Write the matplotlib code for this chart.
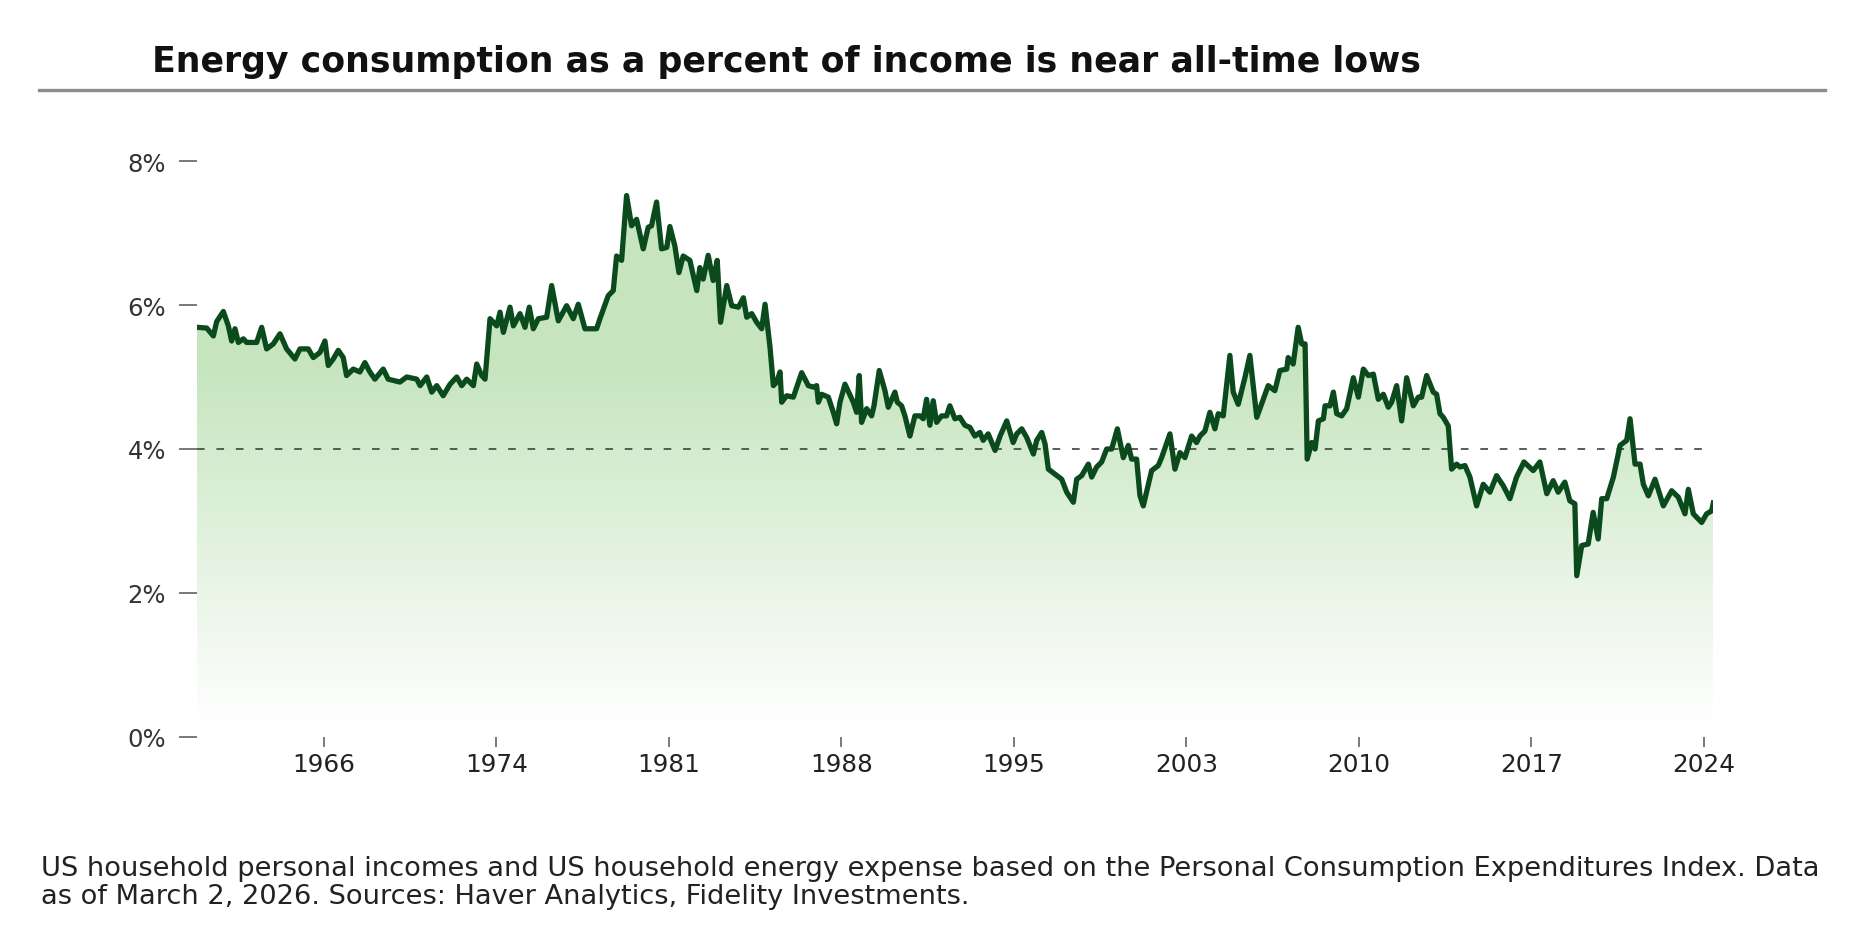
import numpy as np
import matplotlib
matplotlib.use("Agg")
import matplotlib.pyplot as plt

plt.rcParams['font.family'] = ['DejaVu Sans']
plt.rcParams['lines.scale_dashes'] = False

# ---------------- data (decimal year, percent of income) ----------------
dates_a = [1960.65, 1961.07, 1961.35, 1961.49, 1961.77, 1961.98, 1962.12, 1962.26, 1962.40, 1962.61,
           1962.75, 1963.17, 1963.38, 1963.59, 1963.87, 1964.15, 1964.43, 1964.78, 1964.99, 1965.34,
           1965.55, 1965.83, 1966.04, 1966.18, 1966.39, 1966.60, 1966.81, 1966.95, 1967.23, 1967.51,
           1967.72, 1967.93, 1968.14, 1968.49, 1968.70, 1969.19, 1969.48, 1969.90, 1970.04, 1970.32,
           1970.53, 1970.74, 1971.01, 1971.30, 1971.58, 1971.79, 1972.00, 1972.28, 1972.42, 1972.63,
           1972.77, 1972.98, 1973.26, 1973.40, 1973.54, 1973.82, 1973.96, 1974.24, 1974.45, 1974.63,
           1974.80, 1975.01, 1975.36, 1975.57, 1975.85, 1976.20, 1976.48, 1976.69, 1976.97, 1977.46,
           1977.60]
pct_a = [5.69, 5.68, 5.57, 5.77, 5.91, 5.71, 5.50, 5.67, 5.48, 5.53,
         5.48, 5.48, 5.69, 5.39, 5.46, 5.60, 5.39, 5.25, 5.39, 5.39,
         5.27, 5.34, 5.50, 5.16, 5.25, 5.37, 5.27, 5.02, 5.11, 5.07,
         5.20, 5.07, 4.97, 5.11, 4.97, 4.93, 5.00, 4.97, 4.88, 5.00,
         4.79, 4.88, 4.74, 4.90, 5.00, 4.88, 4.97, 4.88, 5.18, 5.02,
         4.97, 5.81, 5.71, 5.90, 5.62, 5.97, 5.71, 5.88, 5.69, 5.97,
         5.67, 5.81, 5.83, 6.27, 5.78, 5.99, 5.81, 6.01, 5.67, 5.67,
         5.81]

dates_b = [1977.95, 1978.16, 1978.30, 1978.51, 1978.72, 1978.93, 1979.14, 1979.42, 1979.63, 1979.77,
           1979.98, 1980.19, 1980.41, 1980.54, 1980.75, 1980.92, 1981.10, 1981.38, 1981.67, 1981.80,
           1981.94, 1982.15, 1982.36, 1982.53, 1982.67, 1982.93, 1983.14, 1983.42, 1983.63, 1983.77,
           1983.98, 1984.19, 1984.40, 1984.54, 1984.75, 1984.89, 1985.03, 1985.17, 1985.24, 1985.45,
           1985.73, 1986.08, 1986.36, 1986.57, 1986.71, 1986.78, 1986.92, 1987.20, 1987.41, 1987.55,
           1987.69, 1987.90, 1988.25, 1988.39, 1988.50, 1988.60, 1988.81, 1989.02, 1989.12, 1989.34,
           1989.58, 1989.72, 1990.00, 1990.10, 1990.28, 1990.42, 1990.63, 1990.84, 1991.05, 1991.19,
           1991.33, 1991.47, 1991.61, 1991.75, 1991.96, 1992.17, 1992.31, 1992.52, 1992.73, 1992.94,
           1993.15, 1993.36, 1993.57, 1993.71, 1993.92, 1994.07, 1994.21, 1994.42, 1994.70, 1994.97,
           1995.12, 1995.33, 1995.54, 1995.82, 1995.96, 1996.17, 1996.31]
pct_b = [6.13, 6.20, 6.68, 6.62, 7.52, 7.10, 7.19, 6.78, 7.08, 7.10,
         7.43, 6.78, 6.80, 7.09, 6.82, 6.45, 6.68, 6.62, 6.20, 6.52,
         6.36, 6.69, 6.34, 6.62, 5.76, 6.27, 5.99, 5.97, 6.10, 5.83,
         5.88, 5.76, 5.67, 6.01, 5.41, 4.88, 4.93, 5.07, 4.65, 4.74,
         4.72, 5.06, 4.88, 4.86, 4.88, 4.65, 4.76, 4.72, 4.51, 4.35,
         4.65, 4.90, 4.65, 4.51, 5.02, 4.37, 4.56, 4.46, 4.60, 5.09,
         4.81, 4.58, 4.79, 4.65, 4.60, 4.46, 4.18, 4.46, 4.46, 4.42,
         4.69, 4.33, 4.67, 4.37, 4.46, 4.46, 4.60, 4.42, 4.44, 4.33,
         4.30, 4.18, 4.23, 4.12, 4.21, 4.09, 3.98, 4.18, 4.39, 4.09,
         4.21, 4.28, 4.16, 3.93, 4.12, 4.23, 4.07]

dates_c = [1996.45, 1996.73, 1997.01, 1997.22, 1997.50, 1997.64, 1997.85, 1998.13, 1998.27, 1998.48,
           1998.69, 1998.90, 1999.11, 1999.35, 1999.60, 1999.81, 1999.95, 2000.16, 2000.30, 2000.44,
           2000.79, 2001.07, 2001.21, 2001.56, 2001.77, 2001.98, 2002.19, 2002.47, 2002.68, 2002.82,
           2003.03, 2003.24, 2003.45, 2003.59, 2003.80, 2004.08, 2004.22, 2004.43, 2004.71, 2004.92,
           2005.21, 2005.48, 2005.69, 2005.97, 2006.18, 2006.47, 2006.53, 2006.74, 2006.95, 2007.10,
           2007.24, 2007.33, 2007.52, 2007.66, 2007.80, 2008.01, 2008.08, 2008.29, 2008.43, 2008.57,
           2008.78, 2008.99, 2009.27, 2009.48, 2009.69, 2009.90, 2010.11, 2010.32, 2010.53, 2010.74,
           2010.88, 2011.09, 2011.30, 2011.51, 2011.79, 2012.00, 2012.14, 2012.35, 2012.63, 2012.77,
           2012.91, 2013.05, 2013.26]
pct_c = [3.72, 3.65, 3.58, 3.40, 3.26, 3.58, 3.63, 3.79, 3.61, 3.75,
         3.82, 4.00, 4.00, 4.28, 3.88, 4.05, 3.86, 3.86, 3.35, 3.21,
         3.70, 3.77, 3.88, 4.21, 3.72, 3.95, 3.88, 4.18, 4.09, 4.18,
         4.25, 4.51, 4.28, 4.49, 4.46, 5.30, 4.79, 4.62, 4.99, 5.30,
         4.44, 4.69, 4.88, 4.81, 5.09, 5.11, 5.27, 5.18, 5.69, 5.46,
         5.46, 3.86, 4.09, 4.00, 4.39, 4.42, 4.60, 4.60, 4.79, 4.49,
         4.46, 4.56, 4.99, 4.72, 5.11, 5.02, 5.04, 4.69, 4.76, 4.58,
         4.65, 4.88, 4.39, 4.99, 4.60, 4.72, 4.72, 5.02, 4.79, 4.76,
         4.49, 4.44, 4.32]

dates_d = [2013.40, 2013.61, 2013.75, 2013.96, 2014.17, 2014.45, 2014.73, 2015.01, 2015.29, 2015.57,
           2015.85, 2016.13, 2016.44, 2016.83, 2017.11, 2017.40, 2017.67, 2017.88, 2018.16, 2018.37,
           2018.58, 2018.66, 2018.87, 2019.14, 2019.35, 2019.56, 2019.71, 2019.92, 2020.20, 2020.48,
           2020.76, 2020.90, 2021.11, 2021.32, 2021.46, 2021.67, 2021.95, 2022.30, 2022.65, 2022.93,
           2023.21, 2023.35, 2023.56, 2023.91, 2024.12, 2024.33, 2024.40]
pct_d = [3.72, 3.79, 3.75, 3.77, 3.61, 3.21, 3.51, 3.40, 3.63, 3.49,
         3.31, 3.61, 3.82, 3.70, 3.82, 3.38, 3.56, 3.40, 3.54, 3.28,
         3.24, 2.24, 2.66, 2.68, 3.12, 2.75, 3.31, 3.31, 3.61, 4.05,
         4.12, 4.42, 3.79, 3.79, 3.51, 3.35, 3.58, 3.21, 3.42, 3.33,
         3.10, 3.44, 3.10, 2.98, 3.10, 3.14, 3.25]

reference_level = 4.0
y_ticks = [0, 2, 4, 6, 8]
y_tick_labels = ["0%", "2%", "4%", "6%", "8%"]
x_tick_labels = ["1966", "1974", "1981", "1988", "1995", "2003", "2010", "2017", "2024"]
x_tick_first, x_tick_last = 1966.0, 2024.0

title = "Energy consumption as a percent of income is near all-time lows"
footnote_1 = ("US household personal incomes and US household energy expense based on the "
              "Personal Consumption Expenditures Index. Data")
footnote_2 = "as of March 2, 2026. Sources: Haver Analytics, Fidelity Investments."

for a, b in [(dates_a, pct_a), (dates_b, pct_b), (dates_c, pct_c), (dates_d, pct_d)]:
    assert len(a) == len(b), (len(a), len(b))

dates = np.array(dates_a + dates_b + dates_c + dates_d)
pct = np.array(pct_a + pct_b + pct_c + pct_d)

# ---------------- figure ----------------
W, H = 1864, 929
fig = plt.figure(figsize=(W / 100, H / 100), dpi=100)
fig.patch.set_facecolor("white")

ax = fig.add_axes([196.7 / W, 1 - 738 / H, (1713.3 - 196.7) / W, (738 - 162) / H])
ax.set_xlim(dates[0], dates[-1])
ax.set_ylim(0, 8)
for s in ax.spines.values():
    s.set_visible(False)

LINE = "#0b4a1d"
BASE = np.array([0.78, 0.90, 0.75])  # light green

# gradient fill under the line
poly = ax.fill_between(dates, pct, 0, facecolor="none", edgecolor="none")
ny = 400
vals = np.linspace(8, 0, ny)
alpha = np.clip(0.2 * vals - 0.03, 0, 1)
img = np.ones((ny, 2, 4))
img[:, :, 0] = BASE[0]
img[:, :, 1] = BASE[1]
img[:, :, 2] = BASE[2]
img[:, :, 3] = alpha[:, None]
im = ax.imshow(img, extent=[dates[0], dates[-1], 0, 8], aspect="auto", zorder=1,
               interpolation="bilinear")
im.set_clip_path(poly.get_paths()[0], transform=ax.transData)

# reference line
ref = ax.axhline(reference_level, color="#4d4d4d", lw=1.3, zorder=2)
ref.set_dashes([5.5, 8.5])

# main line
ax.plot(dates, pct, color=LINE, lw=3.8, zorder=3, solid_joinstyle="round")

# ticks
ax.set_yticks(y_ticks)
ax.set_yticklabels(y_tick_labels)
ax.set_xticks(np.linspace(x_tick_first, x_tick_last, len(x_tick_labels)))
ax.set_xticklabels(x_tick_labels)
ax.tick_params(axis="y", length=13, width=1.1, color="#555555", pad=9,
               labelsize=17.5, labelcolor="#333333")
ax.tick_params(axis="x", length=7.5, width=1.1, color="#555555", pad=3,
               labelsize=17.8, labelcolor="#222222")

# title and rule
fig.text(152 / W, 1 - 62 / H, title, fontsize=25, fontweight="bold", color="#111111",
         ha="left", va="center")
fig.add_artist(plt.Line2D([39 / W, 1825 / W], [1 - 90.5 / H, 1 - 90.5 / H],
                          color="#8c8c8c", lw=2.4, transform=fig.transFigure))

# footnote
fig.text(41 / W, 1 - 869 / H, footnote_1, fontsize=19.6, color="#222222", ha="left", va="center")
fig.text(41 / W, 1 - 897.5 / H, footnote_2, fontsize=19.6, color="#222222", ha="left", va="center")

fig.savefig("out.png", dpi=100, facecolor="white")
